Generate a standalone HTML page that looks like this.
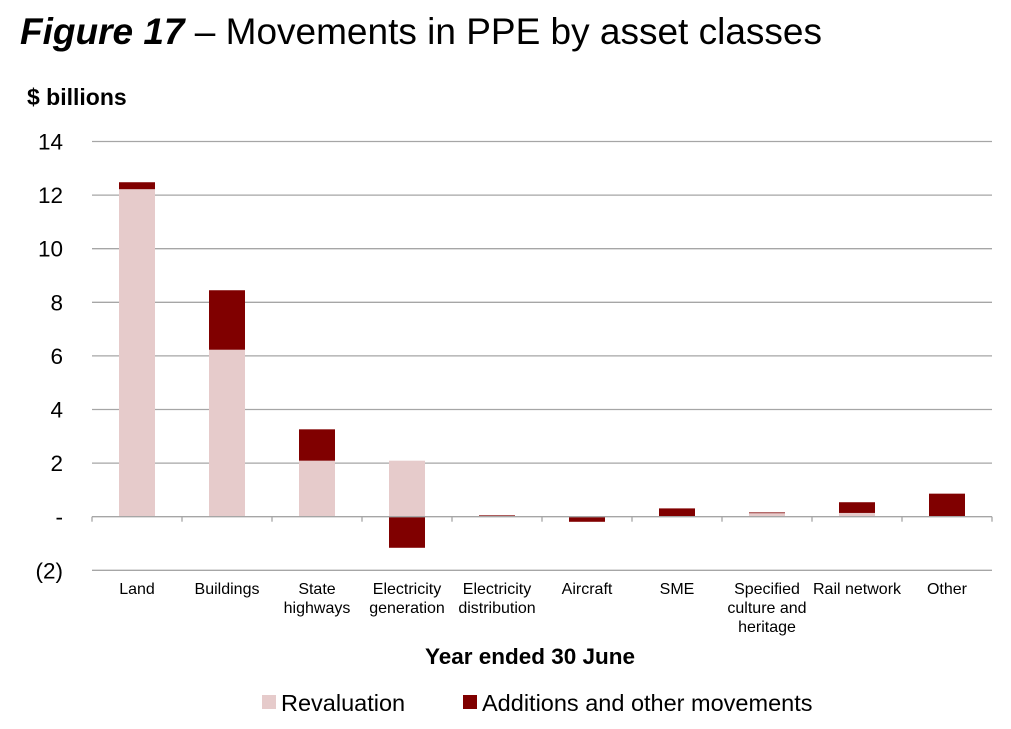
<!DOCTYPE html>
<html><head><meta charset="utf-8"><style>
body{margin:0;background:#fff;font-family:"Liberation Sans",Arial,sans-serif;}
svg{display:block}
</style></head><body>
<svg id="c" width="1011" height="729" font-family="Liberation Sans, Arial, sans-serif">
<text x="20" y="44" font-size="37" fill="#000"><tspan font-weight="bold" font-style="italic">Figure 17</tspan> – Movements in PPE by asset classes</text>
<text x="27" y="105" font-size="23" font-weight="bold">$ billions</text>
<text x="530" y="664" font-size="22.5" font-weight="bold" text-anchor="middle">Year ended 30 June</text>
<g id="grid"></g><g id="bars"></g><g id="xlab"></g>
<rect x="262" y="695" width="14" height="14" fill="#e6cbcb"/>
<text x="281" y="711" font-size="23.5">Revaluation</text>
<rect x="463" y="695" width="14" height="14" fill="#800000"/>
<text x="482" y="711" font-size="23.5">Additions and other movements</text>
</svg>
<script>
const categories=[["Land"],["Buildings"],["State","highways"],["Electricity","generation"],["Electricity","distribution"],["Aircraft"],["SME"],["Specified","culture and","heritage"],["Rail network"],["Other"]];
const revaluation=[12.22,6.23,2.09,2.09,0,0,0,0.13,0.14,0];
const additions=[0.26,2.22,1.17,-1.16,0.05,-0.19,0.31,0.03,0.4,0.86];
const yTicks=[-2,0,2,4,6,8,10,12,14];
const yTickLabels=["(2)","-","2","4","6","8","10","12","14"];
const NS="http://www.w3.org/2000/svg";
const L=92,R=992,y0=516.7,k=26.8;
const Y=v=>y0-v*k;
const bw=(R-L)/categories.length;
const X=i=>L+bw*(i+0.5);
function mk(t,a,p){const e=document.createElementNS(NS,t);for(const n in a)e.setAttribute(n,a[n]);p.appendChild(e);return e;}
const g=document.getElementById('grid');
yTicks.forEach((v,i)=>{
 if(v!==0){const ln=mk('line',{x1:L,x2:R,y1:Y(v),y2:Y(v),stroke:'#a6a6a6','stroke-width':1.3},g);
 
 }
 const t=mk('text',{x:63,y:Y(v)+8,'font-size':22.5,'text-anchor':'end'},g);t.textContent=yTickLabels[i];
 
 
});
const b=document.getElementById('bars');
categories.forEach((c,i)=>{
 const x=X(i)-18,w=36;
 let pos=0,neg=0;
 [[revaluation[i],'#e6cbcb','bar-revaluation'],[additions[i],'#800000','bar-additions']].forEach(([v,col,nm])=>{
  let top,bot;
  if(v>=0){bot=pos;pos+=v;top=pos;}else{top=neg;neg+=v;bot=neg;}
  if(v===0)return;
  const r=mk('rect',{x:x,y:Y(top),width:w,height:Y(bot)-Y(top),fill:col},b);
  
  
 });
});
const ax=mk('line',{x1:L,x2:R,y1:y0,y2:y0,stroke:'#a6a6a6','stroke-width':1.3},b);


const xl=document.getElementById('xlab');
for(let i=0;i<=categories.length;i++){
 const tk=mk('line',{x1:L+bw*i,x2:L+bw*i,y1:y0,y2:y0+5,stroke:'#a6a6a6','stroke-width':1.3},xl);
 
 
}
categories.forEach((c,i)=>{
 c.forEach((s,j)=>{
  const t=mk('text',{x:X(i),y:594+j*19,'font-size':16,'text-anchor':'middle'},xl);t.textContent=s;
  
  
 });
});
</script>
</body></html>
